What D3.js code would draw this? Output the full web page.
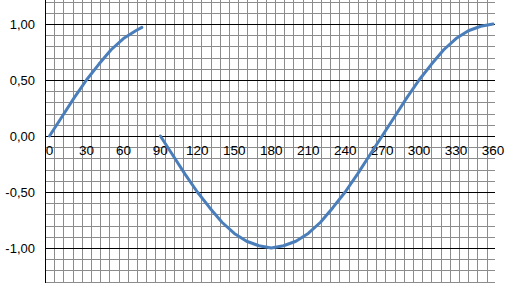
<!DOCTYPE html>
<html>
<head>
<meta charset="utf-8">
<script src="https://cdn.jsdelivr.net/npm/d3@7"></script>
<style>
  body { margin: 0; background: #fff; }
  svg { display: block; font-family: "Liberation Sans", Arial, sans-serif; }
</style>
</head>
<body>
<div id="chart"></div>
<script>
// first piece: 0..75 degrees
const deg1 = [0, 10, 20, 30, 40, 50, 60, 70, 75];
const val1 = [0.00, 0.17, 0.34, 0.50, 0.64, 0.77, 0.87, 0.94, 0.97];

// second piece: 90..360 degrees
const deg2 = [90, 100, 110, 120, 130, 140, 150, 160, 170, 180, 190, 200, 210, 220, 230, 240,
              250, 260, 270, 280, 290, 300, 310, 320, 330, 340, 350, 360];
const val2 = [0.00, -0.17, -0.34, -0.50, -0.64, -0.77, -0.87, -0.94, -0.98, -1.00, -0.98, -0.94, -0.87, -0.77, -0.64, -0.50,
              -0.34, -0.17, 0.00, 0.17, 0.34, 0.50, 0.64, 0.77, 0.87, 0.94, 0.98, 1.00];

const xTicks = [0, 30, 60, 90, 120, 150, 180, 210, 240, 270, 300, 330, 360];
const yTicks = [1, 0.5, 0, -0.5, -1];

function init() {
    const width = 508;
    const height = 283;

    const svg = d3.select("#chart")
        .append("svg")
        .attr("width", width)
        .attr("height", height);

    const x = d3.scaleLinear().domain([0, 360]).range([49.5, 493]);
    const y = d3.scaleLinear().domain([-1, 1]).range([248, 24]);

    const left = 45, gridRight = 490, plotRight = 495;
    const crisp = v => Math.round(v) + 0.5;

    // minor horizontal lines every 0.1
    const yMinor = d3.range(-13, 13).map(i => i / 10);
    svg.append("g").selectAll("line")
        .data(yMinor.filter(v => Math.abs(v * 2 - Math.round(v * 2)) > 1e-6))
        .enter().append("line")
        .attr("x1", left).attr("x2", plotRight)
        .attr("y1", d => crisp(y(d))).attr("y2", d => crisp(y(d)))
        .attr("stroke", "#8c8c8c").attr("stroke-width", 1);

    // minor vertical lines (graph paper)
    const cell = 9.2;
    const xMinor = d3.range(left + cell, gridRight, cell);
    svg.append("g").selectAll("line")
        .data(xMinor)
        .enter().append("line")
        .attr("x1", d => crisp(d)).attr("x2", d => crisp(d))
        .attr("y1", 0).attr("y2", height)
        .attr("stroke", "#8c8c8c").attr("stroke-width", 1);

    // major horizontal lines
    svg.append("g").selectAll("line")
        .data(yTicks)
        .enter().append("line")
        .attr("x1", left).attr("x2", plotRight)
        .attr("y1", d => crisp(y(d))).attr("y2", d => crisp(y(d)))
        .attr("stroke", "#000").attr("stroke-width", 1);

    // left axis line
    svg.append("line")
        .attr("x1", left + 0.5).attr("x2", left + 0.5)
        .attr("y1", 0).attr("y2", height)
        .attr("stroke", "#000").attr("stroke-width", 1);

    // y labels
    svg.append("g").selectAll("text")
        .data(yTicks)
        .enter().append("text")
        .attr("x", 35)
        .attr("y", d => y(d) + 4.5)
        .attr("text-anchor", "end")
        .attr("font-size", 13)
        .attr("fill", "#000")
        .text(d => d3.format(".2f")(d).replace("−", "-").replace(".", ","));

    // x labels
    svg.append("g").selectAll("text")
        .data(xTicks)
        .enter().append("text")
        .attr("x", d => x(d))
        .attr("y", 154.5)
        .attr("text-anchor", "middle")
        .attr("font-size", 13.5)
        .attr("fill", "#000")
        .text(d => d);

    const line = d3.line()
        .x(d => x(d[0]))
        .y(d => y(d[1]));

    [d3.zip(deg1, val1), d3.zip(deg2, val2)].forEach(pts => {
        svg.append("path")
            .datum(pts)
            .attr("d", line)
            .attr("fill", "none")
            .attr("stroke", "#4a7ebb")
            .attr("stroke-width", 3)
            .attr("stroke-linejoin", "round")
            .attr("stroke-linecap", "round");
    });
}
window.onload = init;
</script>
</body>
</html>
